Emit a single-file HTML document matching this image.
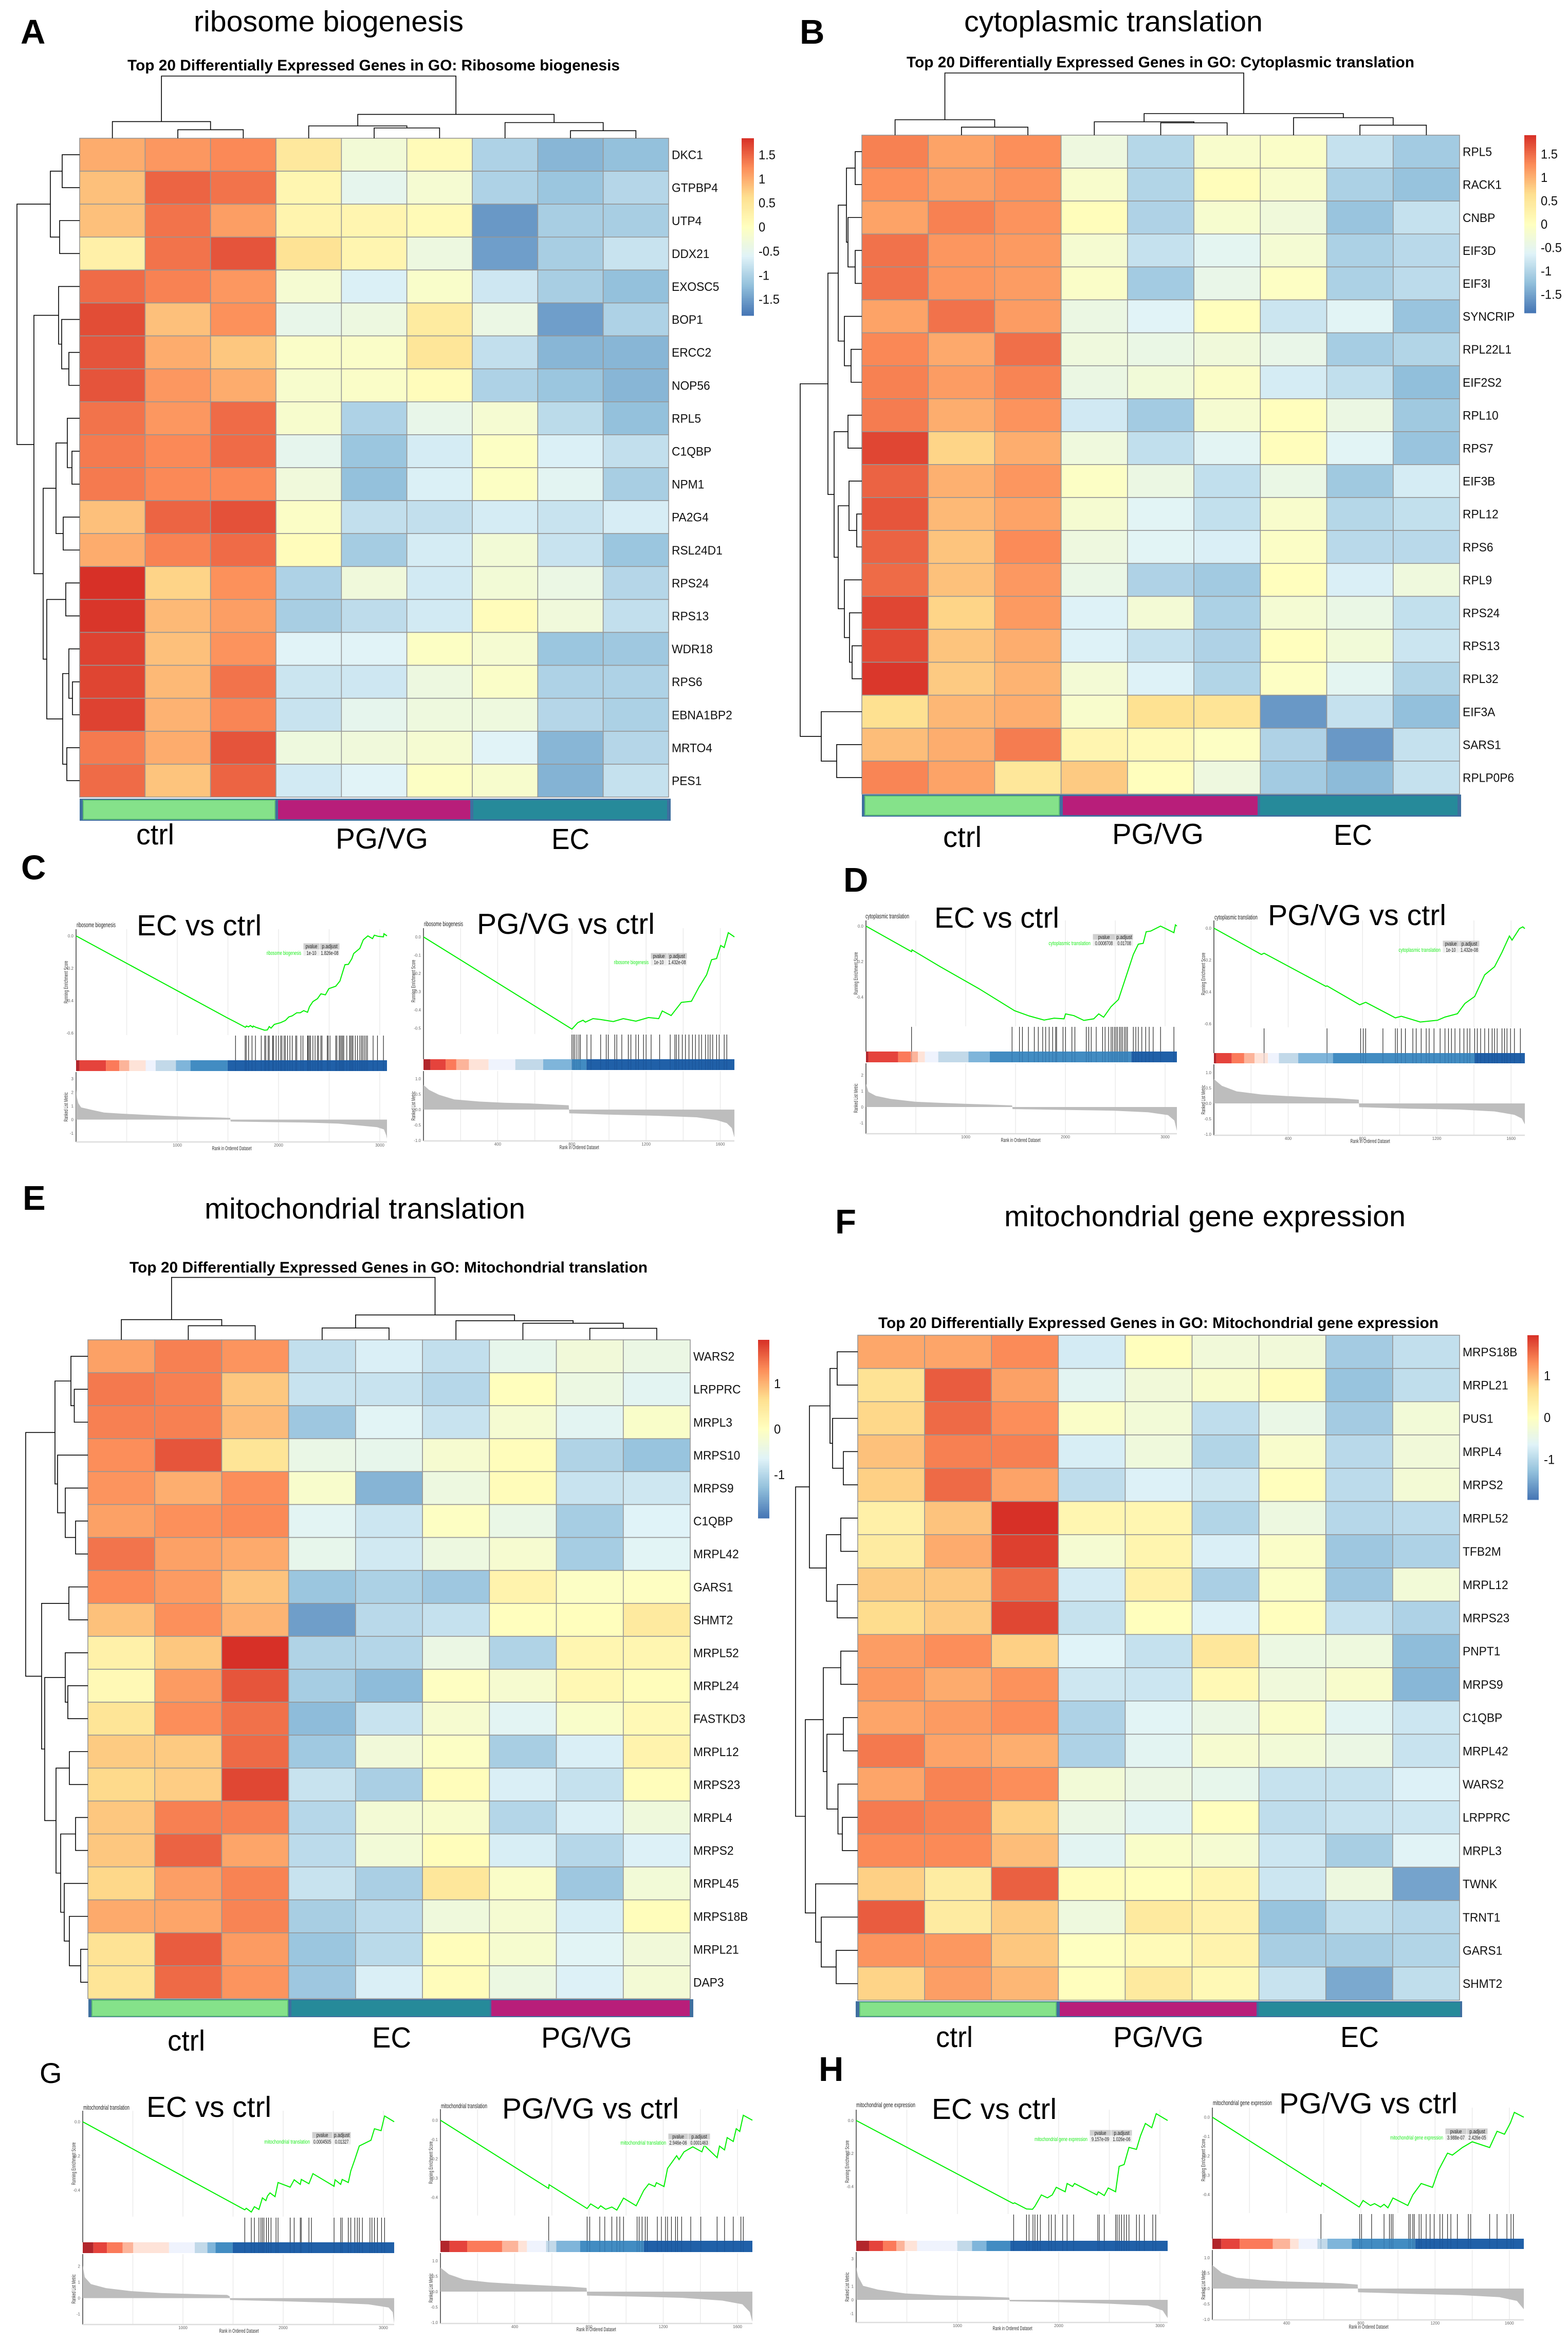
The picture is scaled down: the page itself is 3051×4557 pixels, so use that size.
<!DOCTYPE html>
<html lang="en">
<head>
<meta charset="utf-8">
<title>GO heatmaps and GSEA enrichment plots</title>
<style>
html,body{margin:0;padding:0;background:#fff}
svg{display:block;font-family:"Liberation Sans",sans-serif}
.letter{font-size:67px;font-weight:700;fill:#000}
.section{font-size:57px;fill:#000}
.hm-title{font-size:30px;font-weight:700;fill:#000}
.group{font-size:57px;fill:#000}
.gsea-title{font-size:13px;fill:#222}
.axis-title{font-size:11px;fill:#333;text-anchor:middle}
</style>
</head>
<body>
<svg id="figure" xmlns="http://www.w3.org/2000/svg" width="3051" height="4557" viewBox="0 0 3051 4557">
<rect x="0" y="0" width="3051" height="4557" fill="#fff"/>
<g id="charts"></g>

<g>
<rect x="155" y="1554" width="1150" height="43" fill="#3f6f9f"/>
<rect x="162" y="1557" width="373" height="37" fill="#85e28a" stroke="#5fbf75" stroke-width="2"/>
<rect x="541" y="1557" width="374" height="37" fill="#b81e7a"/>
<rect x="921" y="1557" width="377" height="37" fill="#268a9a"/>
</g>
<g>
<rect x="1677" y="1546" width="1166" height="43" fill="#3f6f9f"/>
<rect x="1683" y="1549" width="378" height="37" fill="#85e28a" stroke="#5fbf75" stroke-width="2"/>
<rect x="2068" y="1549" width="379" height="37" fill="#b81e7a"/>
<rect x="2452" y="1549" width="384" height="37" fill="#268a9a"/>
</g>
<g>
<rect x="172" y="3890" width="1177" height="35" fill="#3f6f9f"/>
<rect x="179" y="3892" width="381" height="31" fill="#85e28a" stroke="#5fbf75" stroke-width="2"/>
<rect x="567" y="3892" width="386" height="31" fill="#268a9a"/>
<rect x="956" y="3892" width="386" height="31" fill="#b81e7a"/>
</g>
<g>
<rect x="1665" y="3894" width="1180" height="31" fill="#3f6f9f"/>
<rect x="1673" y="3896" width="382" height="27" fill="#85e28a" stroke="#5fbf75" stroke-width="2"/>
<rect x="2062" y="3896" width="383" height="27" fill="#b81e7a"/>
<rect x="2449" y="3896" width="392" height="27" fill="#268a9a"/>
</g>

<text class="letter" x="40" y="85">A</text>
<text class="letter" x="1556" y="85">B</text>
<text class="letter" x="41" y="1711">C</text>
<text class="letter" x="1641" y="1735">D</text>
<text class="letter" x="44" y="2354">E</text>
<text class="letter" x="1625" y="2400">F</text>
<text x="77" y="4053" font-size="56">G</text>
<text class="letter" x="1593" y="4049">H</text>

<text class="section" x="377" y="61" textLength="525" lengthAdjust="spacingAndGlyphs">ribosome biogenesis</text>
<text class="section" x="1876" y="61" textLength="581" lengthAdjust="spacingAndGlyphs">cytoplasmic translation</text>
<text class="section" x="398" y="2371" textLength="624" lengthAdjust="spacingAndGlyphs">mitochondrial translation</text>
<text class="section" x="1954" y="2386" textLength="781" lengthAdjust="spacingAndGlyphs">mitochondrial gene expression</text>

<text class="hm-title" x="248" y="137" textLength="958" lengthAdjust="spacingAndGlyphs">Top 20 Differentially Expressed Genes in GO: Ribosome biogenesis</text>
<text class="hm-title" x="1764" y="131" textLength="988" lengthAdjust="spacingAndGlyphs">Top 20 Differentially Expressed Genes in GO: Cytoplasmic translation</text>
<text class="hm-title" x="252" y="2476" textLength="1008" lengthAdjust="spacingAndGlyphs">Top 20 Differentially Expressed Genes in GO: Mitochondrial translation</text>
<text class="hm-title" x="1709" y="2584" textLength="1090" lengthAdjust="spacingAndGlyphs">Top 20 Differentially Expressed Genes in GO: Mitochondrial gene expression</text>

<text class="group" x="265" y="1643" textLength="74" lengthAdjust="spacingAndGlyphs">ctrl</text>
<text class="group" x="653" y="1651" textLength="180" lengthAdjust="spacingAndGlyphs">PG/VG</text>
<text class="group" x="1073" y="1652" textLength="74" lengthAdjust="spacingAndGlyphs">EC</text>
<text class="group" x="1835" y="1648" textLength="75" lengthAdjust="spacingAndGlyphs">ctrl</text>
<text class="group" x="2164" y="1642" textLength="178" lengthAdjust="spacingAndGlyphs">PG/VG</text>
<text class="group" x="2595" y="1644" textLength="75" lengthAdjust="spacingAndGlyphs">EC</text>
<text class="group" x="326" y="3990" textLength="73" lengthAdjust="spacingAndGlyphs">ctrl</text>
<text class="group" x="724" y="3984" textLength="76" lengthAdjust="spacingAndGlyphs">EC</text>
<text class="group" x="1053" y="3984" textLength="177" lengthAdjust="spacingAndGlyphs">PG/VG</text>
<text class="group" x="1821" y="3983" textLength="72" lengthAdjust="spacingAndGlyphs">ctrl</text>
<text class="group" x="2166" y="3983" textLength="176" lengthAdjust="spacingAndGlyphs">PG/VG</text>
<text class="group" x="2608" y="3983" textLength="75" lengthAdjust="spacingAndGlyphs">EC</text>

<text class="group" x="266" y="1820" textLength="243" lengthAdjust="spacingAndGlyphs">EC vs ctrl</text>
<text class="group" x="928" y="1817" textLength="346" lengthAdjust="spacingAndGlyphs">PG/VG vs ctrl</text>
<text class="group" x="1818" y="1805" textLength="243" lengthAdjust="spacingAndGlyphs">EC vs ctrl</text>
<text class="group" x="2467" y="1800" textLength="347" lengthAdjust="spacingAndGlyphs">PG/VG vs ctrl</text>
<text class="group" x="285" y="4119" textLength="243" lengthAdjust="spacingAndGlyphs">EC vs ctrl</text>
<text class="group" x="977" y="4122" textLength="344" lengthAdjust="spacingAndGlyphs">PG/VG vs ctrl</text>
<text class="group" x="1813" y="4123" textLength="243" lengthAdjust="spacingAndGlyphs">EC vs ctrl</text>
<text class="group" x="2489" y="4112" textLength="347" lengthAdjust="spacingAndGlyphs">PG/VG vs ctrl</text>

<text class="gsea-title" x="149" y="1804" textLength="76" lengthAdjust="spacingAndGlyphs">ribosome biogenesis</text>
<text class="gsea-title" x="825" y="1802" textLength="76" lengthAdjust="spacingAndGlyphs">ribosome biogenesis</text>
<text class="gsea-title" x="1684" y="1787" textLength="85" lengthAdjust="spacingAndGlyphs">cytoplasmic translation</text>
<text class="gsea-title" x="2363" y="1789" textLength="84" lengthAdjust="spacingAndGlyphs">cytoplasmic translation</text>
<text class="gsea-title" x="162" y="4105" textLength="90" lengthAdjust="spacingAndGlyphs">mitochondrial translation</text>
<text class="gsea-title" x="858" y="4102" textLength="90" lengthAdjust="spacingAndGlyphs">mitochondrial translation</text>
<text class="gsea-title" x="1666" y="4100" textLength="115" lengthAdjust="spacingAndGlyphs">mitochondrial gene expression</text>
<text class="gsea-title" x="2360" y="4096" textLength="115" lengthAdjust="spacingAndGlyphs">mitochondrial gene expression</text>

<g>
<text class="axis-title" transform="translate(132,1911) rotate(-90)" textLength="83" lengthAdjust="spacingAndGlyphs">Running Enrichment Score</text>
<text class="axis-title" transform="translate(132,2154) rotate(-90)" textLength="57" lengthAdjust="spacingAndGlyphs">Ranked List Metric</text>
<text class="axis-title" x="451" y="2238" textLength="77" lengthAdjust="spacingAndGlyphs">Rank in Ordered Dataset</text>
<text class="axis-title" transform="translate(808,1909) rotate(-90)" textLength="83" lengthAdjust="spacingAndGlyphs">Running Enrichment Score</text>
<text class="axis-title" transform="translate(808,2152) rotate(-90)" textLength="57" lengthAdjust="spacingAndGlyphs">Ranked List Metric</text>
<text class="axis-title" x="1127" y="2236" textLength="77" lengthAdjust="spacingAndGlyphs">Rank in Ordered Dataset</text>
<text class="axis-title" transform="translate(1669,1894) rotate(-90)" textLength="83" lengthAdjust="spacingAndGlyphs">Running Enrichment Score</text>
<text class="axis-title" transform="translate(1669,2137) rotate(-90)" textLength="57" lengthAdjust="spacingAndGlyphs">Ranked List Metric</text>
<text class="axis-title" x="1986" y="2222" textLength="77" lengthAdjust="spacingAndGlyphs">Rank in Ordered Dataset</text>
<text class="axis-title" transform="translate(2345,1895) rotate(-90)" textLength="83" lengthAdjust="spacingAndGlyphs">Running Enrichment Score</text>
<text class="axis-title" transform="translate(2345,2140) rotate(-90)" textLength="57" lengthAdjust="spacingAndGlyphs">Ranked List Metric</text>
<text class="axis-title" x="2666" y="2224" textLength="77" lengthAdjust="spacingAndGlyphs">Rank in Ordered Dataset</text>
<text class="axis-title" transform="translate(147,4210) rotate(-90)" textLength="83" lengthAdjust="spacingAndGlyphs">Running Enrichment Score</text>
<text class="axis-title" transform="translate(147,4454) rotate(-90)" textLength="57" lengthAdjust="spacingAndGlyphs">Ranked List Metric</text>
<text class="axis-title" x="465" y="4539" textLength="77" lengthAdjust="spacingAndGlyphs">Rank in Ordered Dataset</text>
<text class="axis-title" transform="translate(842,4208) rotate(-90)" textLength="83" lengthAdjust="spacingAndGlyphs">Running Enrichment Score</text>
<text class="axis-title" transform="translate(842,4452) rotate(-90)" textLength="57" lengthAdjust="spacingAndGlyphs">Ranked List Metric</text>
<text class="axis-title" x="1160" y="4536" textLength="77" lengthAdjust="spacingAndGlyphs">Rank in Ordered Dataset</text>
<text class="axis-title" transform="translate(1652,4206) rotate(-90)" textLength="83" lengthAdjust="spacingAndGlyphs">Running Enrichment Score</text>
<text class="axis-title" transform="translate(1652,4450) rotate(-90)" textLength="57" lengthAdjust="spacingAndGlyphs">Ranked List Metric</text>
<text class="axis-title" x="1970" y="4534" textLength="77" lengthAdjust="spacingAndGlyphs">Rank in Ordered Dataset</text>
<text class="axis-title" transform="translate(2345,4203) rotate(-90)" textLength="83" lengthAdjust="spacingAndGlyphs">Running Enrichment Score</text>
<text class="axis-title" transform="translate(2345,4446) rotate(-90)" textLength="57" lengthAdjust="spacingAndGlyphs">Ranked List Metric</text>
<text class="axis-title" x="2663" y="4531" textLength="77" lengthAdjust="spacingAndGlyphs">Rank in Ordered Dataset</text>
</g>
</svg>

<script>
/* ---------- heatmap data ---------- */
const genesA = ['DKC1','GTPBP4','UTP4','DDX21','EXOSC5','BOP1','ERCC2','NOP56','RPL5','C1QBP','NPM1','PA2G4','RSL24D1','RPS24','RPS13','WDR18','RPS6','EBNA1BP2','MRTO4','PES1'];
const valuesA = [
[1.0,1.15,1.25,.45,-.25,.08,-1.0,-1.3,-1.2],
[.85,1.5,1.4,.18,-.5,-.2,-1.0,-1.15,-.95],
[.85,1.4,1.1,.22,.2,.1,-1.55,-1.05,-1.05],
[.3,1.4,1.6,.55,.2,-.35,-1.5,-1.05,-.8],
[1.45,1.3,1.15,-.2,-.65,-.12,-.75,-1.05,-1.2],
[1.65,.85,1.2,-.45,-.35,.4,-.4,-1.5,-1.0],
[1.6,1.0,.8,-.1,-.1,.5,-.85,-1.3,-1.3],
[1.6,1.15,1.0,-.15,-.1,.05,-1.0,-1.15,-1.3],
[1.4,1.15,1.45,-.15,-1.0,-.45,-.2,-.9,-1.2],
[1.35,1.25,1.45,-.5,-1.15,-.7,-.05,-.65,-.85],
[1.35,1.25,1.25,-.3,-1.2,-.65,-.05,-.55,-1.05],
[.85,1.5,1.62,-.08,-.85,-.85,-.7,-.8,-.68],
[1.0,1.3,1.45,.05,-1.07,-.7,-.25,-.8,-1.15],
[1.84,.7,1.2,-1.0,-.3,-.72,-.25,-.4,-.95],
[1.8,.9,1.1,-1.05,-.88,-.72,.05,-.3,-.85],
[1.72,.85,1.18,-.6,-.6,-.05,-.2,-1.15,-1.12],
[1.7,.9,1.4,-.78,-.75,-.35,-.1,-1.0,-1.0],
[1.72,.95,1.28,-.8,-.5,-.33,-.33,-.95,-1.02],
[1.35,1.0,1.6,-.33,-.3,-.2,-.6,-1.3,-.95],
[1.45,.82,1.5,-.72,-.6,-.05,-.15,-1.33,-.82]];
const colTreeA = [121,[32.4,0,[16.6,1,2]],[46.4,[24,3,[20,4,5]],[30.5,6,[14.7,7,8]]]];
const rowTreeA = [122,[57,[34,0,1],[39,2,3]],[89,[41,4,[35,5,[21,6,7]]],[71,[46,[24,8,[15,9,10]],[32,11,12]],[64,[27,13,14],[33,[21,15,[14,16,17]],[25,18,19]]]]]];
const legendTicksA = [1.5,1,0.5,0,-0.5,-1,-1.5];

const genesB = ['RPL5','RACK1','CNBP','EIF3D','EIF3I','SYNCRIP','RPL22L1','EIF2S2','RPL10','RPS7','EIF3B','RPL12','RPS6','RPL9','RPS24','RPS13','RPL32','EIF3A','SARS1','RPLP0P6'];
const valuesB = [
[1.35,1.1,1.25,-.35,-.98,-.15,-.1,-.85,-1.12],
[1.25,1.13,1.22,-.15,-1.0,.05,-.15,-1.05,-1.22],
[1.1,1.35,1.22,.05,-1.03,-.18,-.3,-1.2,-.85],
[1.45,1.2,1.17,-.2,-.85,-.55,-.22,-1.05,-.95],
[1.45,1.2,1.15,-.1,-1.12,-.45,-.05,-1.05,-.92],
[1.1,1.45,1.15,-.4,-.62,.03,-.8,-.6,-1.2],
[1.3,1.05,1.47,-.33,-.42,-.3,-.45,-1.1,-1.0],
[1.35,1.15,1.33,-.4,-.28,-.08,-.72,-.88,-1.27],
[1.38,1.02,1.22,-.75,-1.12,-.2,.03,-.4,-1.15],
[1.75,.72,1.02,-.33,-.88,-.58,.04,-.6,-1.2],
[1.55,1.0,1.2,-.07,-.4,-.88,-.42,-1.15,-.72],
[1.65,.93,1.1,-.2,-.6,-.87,-.15,-.98,-.87],
[1.55,.85,1.28,-.35,-.6,-.68,-.08,-.95,-.95],
[1.5,.87,1.18,-.43,-1.03,-1.13,.02,-.68,-.33],
[1.75,.72,1.17,-.65,-.25,-1.05,-.22,-.42,-.87],
[1.72,.85,1.02,-.65,-.85,-1.03,.02,-.28,-.8],
[1.85,.8,.98,-.25,-.65,-1.0,-.05,-.55,-1.0],
[.62,.95,1.02,-.15,.6,.55,-1.6,-.85,-1.25],
[.9,1.02,1.38,.2,.1,-.05,-1.03,-1.6,-.85],
[1.32,1.1,.5,.8,.03,-.35,-1.12,-1.3,-.85]];
const colTreeB = [121,[30,0,[15.6,1,2]],[42,[26,3,[24,4,5]],[34,6,[19.4,7,8]]]];
const rowTreeB = [120,[66,[46,[30,[13,0,1],[27,2,[13,3,4]]],[34,5,[21,6,7]]],[54,[27,8,9],[46,[25,10,[10,11,12]],[34,13,[24,14,[19,15,16]]]]]],[79,17,[49,18,19]]];
const legendTicksB = [1.5,1,0.5,0,-0.5,-1,-1.5];

const genesE = ['WARS2','LRPPRC','MRPL3','MRPS10','MRPS9','C1QBP','MRPL42','GARS1','SHMT2','MRPL52','MRPL24','FASTKD3','MRPL12','MRPS23','MRPL4','MRPS2','MRPL45','MRPS18B','MRPL21','DAP3'];
const valuesE = [
[1.15,1.4,1.25,-.9,-.7,-.9,-.5,-.3,-.42],
[1.45,1.4,.85,-.85,-.85,-1.0,.03,-.4,-.58],
[1.4,1.4,.95,-1.2,-.62,-.85,-.22,-.58,-.12],
[1.3,1.7,.55,-.45,-.5,-.2,.05,-1.05,-1.25],
[1.25,1.05,1.3,-.15,-1.4,-.38,.07,-.85,-.8],
[1.15,1.28,1.33,-.6,-.82,-.05,-.45,-1.13,-.65],
[1.48,1.15,1.08,-.5,-.78,-.38,-.2,-1.13,-.62],
[1.33,1.2,.88,-1.22,-1.08,-1.2,.25,-.07,-.03],
[.9,1.28,1.0,-1.6,-.98,-.88,.02,.03,.45],
[.3,.85,1.96,-1.05,-1.02,-.42,-1.05,.2,.2],
[.12,1.2,1.7,-1.13,-1.33,-.03,-.2,.15,.05],
[.55,1.3,1.5,-1.33,-.85,-.2,-.6,-.13,.12],
[.82,.83,1.55,-1.18,-.3,-.07,-1.12,-.7,.25],
[.7,.8,1.8,-.85,-1.1,.05,-.7,-.88,.05],
[.85,1.4,1.4,-1.0,-.25,-.15,-1.02,-.7,-.33],
[.85,1.6,1.12,-.95,-.28,.05,-.72,-1.0,-.68],
[.72,1.17,1.38,-.85,-1.1,.5,-.1,-1.2,-.28],
[1.08,1.12,1.37,-1.12,-.95,-.33,-.22,-.72,.05],
[.58,1.65,1.2,-1.22,-.97,.05,-.18,-.62,-.3],
[.55,1.55,1.25,-1.2,-.7,.06,-.4,-.68,-.25]];
const colTreeE = [121.4,[39.3,0,[27.4,1,2]],[48.4,[23.1,3,4],[37.2,5,[32.3,6,[22.4,7,8]]]]];
const rowTreeE = [121,[64,[33,0,[26.5,1,2]],[59,3,[44,4,[24,5,6]]]],[90,[37,7,8],[84,[44,9,[39,10,11]],[62,[36,12,13],[53,[24,14,15],[46,16,[36,17,[14,18,19]]]]]]]];
const legendTicksE = [1,0,-1];

const genesF = ['MRPS18B','MRPL21','PUS1','MRPL4','MRPS2','MRPL52','TFB2M','MRPL12','MRPS23','PNPT1','MRPS9','C1QBP','MRPL42','WARS2','LRPPRC','MRPL3','TWNK','TRNT1','GARS1','SHMT2'];
const valuesF = [
[1.1,1.12,1.32,-.75,.03,-.3,-.3,-1.15,-.9],
[.58,1.65,1.15,-.58,-.3,-.15,.05,-1.25,-.92],
[.72,1.55,1.3,-.1,-.28,-.93,-.45,-1.15,-.28],
[.9,1.4,1.4,-.72,-.33,-1.03,-.15,-.98,-.3],
[.78,1.55,1.13,-.93,-.68,-.8,.03,-.95,-.25],
[.32,.88,1.96,.2,.2,-1.03,-.38,-1.0,-.95],
[.42,1.07,1.85,-.22,.22,-.7,-.1,-1.2,-1.07],
[.82,.85,1.55,-.75,.3,-1.1,-.08,-1.2,-.28],
[.68,.82,1.8,-.87,.03,-.68,.02,-.88,-1.07],
[1.18,1.3,.78,-.65,-.88,.5,-.4,-.35,-1.32],
[1.22,1.07,1.27,-.8,-.82,.12,-.32,-.15,-1.38],
[1.12,1.2,1.3,-1.07,-.62,-.42,-.1,-.58,-.82],
[1.45,1.13,1.05,-1.07,-.58,-.2,-.28,-.42,-.85],
[1.12,1.38,1.3,-.27,-.42,-.5,-.87,-.87,-.68],
[1.43,1.38,.78,-.42,-.58,.02,-.93,-.85,-.82],
[1.33,1.33,.93,-.58,-.12,-.22,-.82,-1.12,-.63],
[.78,.4,1.62,.05,.03,.2,-.82,-.37,-1.55],
[1.65,.42,.82,-.35,.45,.27,-1.25,-.92,-1.0],
[1.25,1.22,.85,-.02,.1,.25,-1.12,-1.12,-1.03],
[.75,1.17,.98,.02,.45,.12,-.85,-1.5,-.92]];
const rowTreeF = [121,[94,[54,[40,0,1],[49,2,[28,3,4]]],[61,[33,5,6],[40,7,8]]],[102,[67,[33,9,10],[60,[28,11,12],[38.5,13,[30,14,15]]]],[82,16,[71,17,[42,18,19]]]]];
const legendTicksF = [1,0,-1];

const paletteStops = ['#4575B4','#91BFDB','#E0F3F8','#FFFFBF','#FEE090','#FC8D59','#D73027'];

/* ---------- GSEA data: [rank, value] ---------- */
const segColors = ['#b2262c','#e5433c','#fb7a5a','#fcb49a','#fee3d8','#eff3fd','#c2d9e9','#7fb5da','#428cc2','#2060a8'];
const rankTicksLong = [1000,2000,3000];
const rankTicksShort = [400,800,1200,1600];

const c1Running = [[0,0],[1496,-.507],[1568,-.53],[1673,-.565],[1682,-.557],[1704,-.562],[1722,-.554],[1745,-.564],[1750,-.557],[1777,-.565],[1863,-.583],[1890,-.581],[1908,-.56],[1926,-.57],[1958,-.547],[2021,-.536],[2067,-.523],[2101,-.501],[2135,-.494],[2180,-.475],[2214,-.475],[2248,-.462],[2286,-.472],[2305,-.438],[2339,-.406],[2384,-.388],[2418,-.358],[2463,-.364],[2497,-.326],[2565,-.311],[2606,-.279],[2622,-.247],[2656,-.178],[2690,-.176],[2724,-.141],[2742,-.109],[2803,-.077],[2837,-.024],[2882,0],[2928,-.017],[2946,.004],[2984,-.003],[3036,-.006],[3041,.013],[3071,0]];
const c1Hits = [1575,1670,1681,1704,1738,1772,1829,1863,1874,1897,1908,1942,1949,1976,1999,2021,2033,2055,2067,2089,2112,2135,2169,2180,2221,2241,2286,2293,2305,2316,2339,2361,2384,2395,2418,2429,2481,2490,2508,2565,2576,2599,2610,2622,2633,2644,2674,2701,2712,2724,2735,2758,2780,2803,2819,2832,2848,2864,2878,2934,2977,3036];
const c1Breaks = [34,295,427,525,688,786,986,1130,1496,3071];
const c1Metric = [[0,2.2],[9,1.6],[23,1.2],[50,.9],[163,.7],[276,.52],[435,.44],[662,.36],[888,.28],[1115,.21],[1341,.17],[1523,.13],[1527,-.14],[1795,-.17],[2248,-.21],[2588,-.29],[2814,-.44],[2973,-.56],[3041,-.72],[3064,-1.16],[3071,-1.4]];
const c1ScoreTicks = [0,-.2,-.4,-.6];
const c1MetricTicks = [3,2,1,0,-1];
const c1Table = ['ribosome biogenesis','1e-10','1.826e-08'];

const c2Running = [[0,0],[800,-.505],[832,-.47],[860,-.457],[873,-.467],[914,-.448],[955,-.453],[1023,-.464],[1077,-.448],[1145,-.462],[1213,-.442],[1268,-.448],[1287,-.406],[1335,-.431],[1390,-.359],[1444,-.353],[1485,-.275],[1526,-.208],[1553,-.125],[1580,-.119],[1602,-.047],[1621,-.058],[1643,.023],[1676,0]];
const c2Hits = [800,808,816,827,838,846,881,903,955,985,996,1031,1042,1069,1104,1118,1145,1159,1186,1200,1227,1273,1330,1355,1363,1376,1395,1412,1431,1450,1466,1485,1499,1520,1534,1545,1559,1580,1594,1621,1635];
const c2Breaks = [38,120,177,245,351,495,645,800,879,1676];
const c2Metric = [[0,.8],[30,.64],[84,.48],[166,.33],[302,.26],[438,.22],[574,.2],[710,.16],[783,.14],[786,-.12],[982,-.16],[1254,-.2],[1472,-.25],[1580,-.34],[1635,-.44],[1662,-.6],[1676,-.9]];
const c2ScoreTicks = [0,-.1,-.2,-.3,-.4,-.5];
const c2MetricTicks = [1,.5,0,-.5,-1];
const c2Table = ['ribosome biogenesis','1e-10','1.432e-08'];

const d1Running = [[0,0],[457,-.144],[462,-.134],[745,-.229],[1142,-.356],[1490,-.477],[1638,-.507],[1787,-.53],[1887,-.519],[1986,-.523],[2001,-.495],[2085,-.505],[2185,-.532],[2284,-.523],[2334,-.495],[2383,-.514],[2458,-.454],[2532,-.414],[2607,-.287],[2681,-.16],[2731,-.102],[2780,-.097],[2810,-.032],[2855,-.028],[2954,0],[3088,-.037],[3103,.007],[3118,0]];
const d1Hits = [457,1465,1539,1569,1629,1688,1728,1772,1802,1837,1872,1902,1912,1976,2001,2065,2095,2209,2234,2259,2309,2373,2398,2433,2458,2473,2492,2507,2522,2542,2557,2572,2592,2607,2622,2681,2706,2731,2766,2805,2840,2880,2954,3088];
const d1Breaks = [25,323,452,521,591,725,1028,1241,2661,3118];
const d1Metric = [[0,1.46],[25,.95],[99,.7],[248,.51],[497,.33],[745,.26],[993,.2],[1241,.15],[1465,.1],[1470,-.13],[1986,-.18],[2483,-.23],[2830,-.33],[3029,-.51],[3093,-.85],[3118,-1.49]];
const d1ScoreTicks = [0,-.2,-.4];
const d1MetricTicks = [2,1,0,-1];
const d1Table = ['cytoplasmic translation','0.0008708','0.01708'];

const d2Running = [[0,0],[256,-.165],[270,-.157],[603,-.365],[609,-.362],[785,-.481],[817,-.465],[977,-.563],[1009,-.553],[1111,-.589],[1204,-.578],[1244,-.558],[1311,-.537],[1351,-.473],[1404,-.429],[1458,-.293],[1511,-.242],[1551,-.152],[1591,-.049],[1605,-.075],[1645,-.003],[1663,.008],[1674,-.003]];
const d2Hits = [270,609,790,804,817,910,977,988,1009,1031,1071,1089,1116,1143,1159,1185,1218,1244,1263,1279,1298,1324,1346,1364,1378,1404,1418,1436,1458,1479,1498,1511,1525,1551,1565,1578,1597,1618,1650];
const d2Breaks = [13,96,163,219,291,350,454,641,1404,1674];
const d2Metric = [[0,.79],[43,.57],[123,.39],[256,.29],[390,.24],[523,.2],[657,.17],[780,.12],[782,-.12],[1057,-.17],[1324,-.2],[1511,-.26],[1618,-.37],[1658,-.49],[1674,-.68]];
const d2ScoreTicks = [0,-.2,-.4,-.6];
const d2MetricTicks = [1,.5,0,-.5,-1];
const d2Table = ['cytoplasmic translation','1e-10','1.432e-08'];

const g1Running = [[0,0],[1617,-.516],[1632,-.507],[1682,-.529],[1713,-.498],[1758,-.514],[1793,-.446],[1828,-.462],[1844,-.435],[1869,-.417],[1919,-.439],[1949,-.356],[2070,-.383],[2110,-.34],[2171,-.367],[2181,-.338],[2257,-.363],[2297,-.304],[2508,-.378],[2518,-.34],[2574,-.367],[2589,-.338],[2650,-.356],[2675,-.288],[2715,-.221],[2760,-.142],[2876,-.108],[2911,-.041],[2977,-.052],[3012,.034],[3108,0]];
const g1Hits = [1617,1682,1713,1758,1778,1793,1808,1833,1854,1879,1929,1949,2070,2110,2171,2181,2257,2282,2508,2574,2589,2650,2675,2715,2740,2760,2791,2866,2886,2911,2941,2982,3012];
const g1Breaks = [106,242,398,504,861,1118,1244,1325,1496,3108];
const g1Metric = [[0,2.05],[20,1.32],[81,.88],[232,.63],[484,.44],[786,.32],[1189,.24],[1440,.2],[1466,.12],[1471,-.12],[1995,-.2],[2498,-.29],[2851,-.39],[3052,-.59],[3093,-.88],[3108,-1.6]];
const g1ScoreTicks = [0,-.2,-.4];
const g1MetricTicks = [2,1,0,-1];
const g1Table = ['mitochondrial translation','0.0004505','0.01327'];

const g2Running = [[0,0],[583,-.354],[585,-.334],[790,-.458],[809,-.434],[850,-.458],[863,-.444],[890,-.462],[923,-.45],[950,-.466],[986,-.404],[1054,-.444],[1095,-.364],[1122,-.33],[1155,-.344],[1163,-.324],[1204,-.344],[1223,-.25],[1272,-.184],[1285,-.204],[1312,-.164],[1348,-.144],[1359,-.138],[1408,-.164],[1421,-.13],[1490,-.194],[1503,-.134],[1530,-.154],[1544,-.09],[1577,-.11],[1593,-.044],[1612,-.058],[1631,.026],[1680,0]];
const g2Hits = [583,790,804,858,885,923,950,966,986,1059,1070,1086,1103,1114,1168,1190,1212,1223,1244,1266,1277,1299,1348,1402,1490,1530,1577,1618,1631];
const g2Breaks = [49,144,332,419,466,569,624,752,1095,1680];
const g2Metric = [[0,.78],[46,.56],[128,.39],[264,.3],[400,.25],[564,.2],[700,.16],[787,.12],[790,-.13],[1054,-.16],[1299,-.2],[1517,-.29],[1626,-.41],[1666,-.66],[1680,-.98]];
const g2ScoreTicks = [0,-.1,-.2,-.3,-.4];
const g2MetricTicks = [1,.5,0,-.5,-1];
const g2Table = ['mitochondrial translation','2.946e-06','0.0001463'];

const h1Running = [[0,0],[1550,-.503],[1565,-.499],[1682,-.536],[1741,-.538],[1765,-.52],[1829,-.451],[1888,-.469],[1936,-.451],[1976,-.405],[2064,-.432],[2083,-.382],[2137,-.4],[2157,-.382],[2377,-.451],[2391,-.432],[2450,-.455],[2489,-.409],[2562,-.432],[2597,-.278],[2646,-.267],[2694,-.163],[2768,-.175],[2807,-.094],[2856,-.018],[2919,-.044],[2963,.041],[3076,0]];
const h1Hits = [1555,1682,1707,1746,1765,1790,1819,1902,1927,1966,2039,2083,2147,2386,2401,2450,2562,2577,2597,2621,2646,2670,2694,2768,2797,2846,2929,2958];
const h1Breaks = [127,264,396,479,601,998,1144,1286,1521,3076];
const h1Metric = [[0,2.4],[20,1.7],[68,1.03],[215,.75],[484,.47],[826,.33],[1218,.25],[1511,.17],[1516,-.11],[2000,-.17],[2489,-.28],[2880,-.42],[3027,-.78],[3076,-1.33]];
const h1ScoreTicks = [0,-.2,-.4];
const h1MetricTicks = [3,1,0,-1];
const h1Table = ['mitochondrial gene expression','9.157e-09','1.026e-06'];

const h2Running = [[0,0],[585,-.357],[590,-.341],[791,-.465],[812,-.431],[852,-.457],[874,-.447],[906,-.465],[925,-.451],[946,-.469],[973,-.418],[1053,-.457],[1080,-.402],[1125,-.343],[1186,-.363],[1218,-.275],[1267,-.186],[1293,-.196],[1347,-.157],[1400,-.127],[1494,-.157],[1534,-.073],[1574,-.088],[1606,-.029],[1627,.025],[1678,0]];
const h2Hits = [585,794,804,858,925,954,964,973,1058,1066,1080,1088,1114,1125,1152,1173,1195,1226,1240,1267,1285,1320,1379,1392,1494,1534,1587,1609,1622];
const h2Breaks = [48,147,326,419,465,566,620,751,1093,1678];
const h2Metric = [[0,.76],[51,.51],[131,.35],[265,.27],[398,.23],[558,.2],[692,.17],[783,.13],[785,-.12],[1066,-.17],[1333,-.21],[1547,-.28],[1641,-.4],[1678,-.67]];
const h2ScoreTicks = [0,-.1,-.2,-.3,-.4];
const h2MetricTicks = [1,.5,0,-.5,-1];
const h2Table = ['mitochondrial gene expression','3.988e-07','2.426e-05'];

/* ---------- drawing ---------- */
const NS = 'http://www.w3.org/2000/svg';
const root = document.getElementById('charts');
function mk(tag, attrs, parent){
  const e = document.createElementNS(NS, tag);
  for (const k in attrs) e.setAttribute(k, attrs[k]);
  parent.appendChild(e);
  return e;
}
function hexRgb(h){return [1,3,5].map(i=>parseInt(h.substr(i,2),16));}
function heatColor(v, range){
  const t = Math.max(0,Math.min(1,(v+range)/(2*range)))*(paletteStops.length-1);
  const i = Math.min(paletteStops.length-2,Math.floor(t)), f = t-i;
  const a = hexRgb(paletteStops[i]), b = hexRgb(paletteStops[i+1]);
  return 'rgb('+a.map((c,k)=>Math.round(c+(b[k]-c)*f)).join(',')+')';
}
function drawHeatmap(c){
  const g = mk('g',{},root);
  
  
  const nR = c.values.length, nC = c.values[0].length;
  const cw = (c.x1-c.x0)/nC, rh = (c.y1-c.y0)/nR;
  const colX = i => c.x0+cw*(i+.5);
  const rowY = i => c.y0+rh*(i+.5);
  c.values.forEach((row,r)=>row.forEach((v,k)=>{
    const cell = mk('rect',{x:c.x0+cw*k,y:c.y0+rh*r,width:cw,height:rh,fill:heatColor(v,c.range),stroke:'#969696','stroke-width':1.6},g);
    
    
  }));
  c.genes.forEach((name,r)=>{
    const t = mk('text',{transform:'translate('+(c.x1+6)+','+(rowY(r)+8.5)+') scale(.95,1)','font-size':24,fill:'#111'},g);
    t.textContent = name;
    
    
  });
  function walk(n, pos, emit){
    if (typeof n === 'number') return {c:pos(n), d:0};
    const a = walk(n[1],pos,emit), b = walk(n[2],pos,emit);
    emit(a,b,n[0]);
    return {c:(a.c+b.c)/2, d:n[0]};
  }
  let dCol = '';
  if (c.colTree) walk(c.colTree,colX,(a,b,h)=>{
    const up = d=>c.y0-d*c.treeScale;
    dCol += 'M'+a.c+' '+up(a.d)+'V'+up(h)+'H'+b.c+'V'+up(b.d);
  });
  if (dCol){
    const p = mk('path',{d:dCol,fill:'none',stroke:'#000','stroke-width':1.6},g);
    
    
  }
  let dRow = '';
  walk(c.rowTree,rowY,(a,b,h)=>{
    const left = d=>c.x0-d*c.treeScale;
    dRow += 'M'+left(a.d)+' '+a.c+'H'+left(h)+'V'+b.c+'H'+left(b.d);
  });
  const rp = mk('path',{d:dRow,fill:'none',stroke:'#000','stroke-width':1.6},g);
  
  
  const n = 100, h = (c.cbY1-c.cbY0)/n;
  const cbY = v => c.cbY0+(c.range-v)/(2*c.range)*(c.cbY1-c.cbY0);
  for (let i=0;i<n;i++){
    const s = mk('rect',{x:c.cbX0,y:c.cbY0+h*i,width:c.cbX1-c.cbX0,height:h+.5,fill:heatColor(c.range-(i+.5)/n*2*c.range,c.range)},g);
    
    
  }
  c.ticks.forEach(v=>{
    const t = mk('text',{transform:'translate('+c.cbLabelX+','+(cbY(v)+9)+') scale(.95,1)','font-size':25,fill:'#111'},g);
    t.textContent = String(v);
    
    
  });
}
function drawGsea(p){
  const g = mk('g',{},root);
  
  
  const X = r => p.x0+r*(p.x1-p.x0)/p.rankMax;
  const ES = v => p.esZero-v*p.esUnit;
  const M = v => p.mZero-v*p.mUnit;
  const step = (p.rankTicks[1]-p.rankTicks[0])/2;
  for (let r=step;r<p.rankMax;r+=step){
    [[p.topY0,p.topY1],[p.botY0,p.botY1]].forEach(sp=>{
      const gl = mk('line',{x1:X(r),x2:X(r),y1:sp[0],y2:sp[1],stroke:'#ececec','stroke-width':1.6},g);
      
      
    });
  }
  const axisTop = mk('line',{x1:p.x0,x2:p.x0,y1:p.topY0,y2:p.rugY1,stroke:'#444','stroke-width':1.6},g);
  
  
  const axisBot = mk('line',{x1:p.x0,x2:p.x0,y1:p.botY0,y2:p.botY1,stroke:'#444','stroke-width':1.6},g);
  
  
  const base = mk('line',{x1:p.x0,x2:p.x1,y1:p.botY1,y2:p.botY1,stroke:'#ddd','stroke-width':2.5},g);
  
  
  let prev = 0;
  p.breaks.forEach((b,i)=>{
    const s = mk('rect',{x:X(prev),y:p.rugY1,width:X(b)-X(prev),height:p.barY1-p.rugY1,fill:segColors[i]},g);
    
    
    prev = b;
  });
  p.hits.forEach(r=>{
    const h = mk('line',{x1:X(r),x2:X(r),y1:p.rugY0,y2:p.rugY1,stroke:'#000','stroke-width':1.2,'stroke-opacity':.85},g);
    
    
    const o = mk('line',{x1:X(r),x2:X(r),y1:p.rugY1,y2:p.barY1,stroke:'#08306b','stroke-width':1.2,'stroke-opacity':.25},g);
    
    
  });
  const mPts = p.metric.map(q=>X(q[0]).toFixed(1)+','+M(q[1]).toFixed(1));
  const area = mk('polygon',{points:X(0)+','+M(0)+' '+mPts.join(' ')+' '+X(p.rankMax)+','+M(0),fill:'#bdbdbd'},g);
  
  
  const line = mk('polyline',{points:p.running.map(q=>X(q[0]).toFixed(1)+','+ES(q[1]).toFixed(1)).join(' '),fill:'none',stroke:'#00f000','stroke-width':2},g);
  
  
  p.scoreTicks.forEach(v=>{
    const t = mk('text',{x:p.x0-5,y:ES(v)+3,'font-size':8,fill:'#666','text-anchor':'end'},g);
    t.textContent = v.toFixed(1);
    
    
  });
  p.metricTicks.forEach(v=>{
    const t = mk('text',{x:p.x0-5,y:M(v)+3,'font-size':8,fill:'#666','text-anchor':'end'},g);
    t.textContent = p.metricDecimals ? v.toFixed(1) : String(v);
    
    
  });
  p.rankTicks.forEach(r=>{
    const t = mk('text',{x:X(r),y:p.botY1+9,'font-size':8,fill:'#666','text-anchor':'middle'},g);
    t.textContent = String(r);
    
    
  });
  const tb = p.tbl;
  [[tb[0],tb[1],tb[3],tb[4],'#cfcfcf'],[tb[1],tb[2],tb[3],tb[4],'#cfcfcf'],[tb[0],tb[1],tb[4],tb[5],'#eeeeee'],[tb[1],tb[2],tb[4],tb[5],'#eeeeee']].forEach(q=>{
    const r = mk('rect',{x:q[0]+.5,y:q[2]+.5,width:q[1]-q[0]-1,height:q[3]-q[2]-1,fill:q[4]},g);
    
    
  });
  const cells = [['pvalue',(tb[0]+tb[1])/2,tb[3],'#222'],['p.adjust',(tb[1]+tb[2])/2,tb[3],'#222'],[p.table[1],(tb[0]+tb[1])/2,tb[4],'#222'],[p.table[2],(tb[1]+tb[2])/2,tb[4],'#222']];
  cells.forEach(q=>{
    const t = mk('text',{x:q[1],y:q[2]+10,'font-size':11,fill:q[3],'text-anchor':'middle',textLength:q[0].length*3.8,lengthAdjust:'spacingAndGlyphs'},g);
    t.textContent = q[0];
    
    
  });
  const term = mk('text',{x:tb[0]-4,y:tb[4]+10,'font-size':11,fill:'#22ee22','text-anchor':'end',textLength:p.table[0].length*3.55,lengthAdjust:'spacingAndGlyphs'},g);
  term.textContent = p.table[0];
  
  
}

drawHeatmap({genes:genesA,values:valuesA,colTree:colTreeA,rowTree:rowTreeA,ticks:legendTicksA,range:1.84,treeScale:1,x0:155,x1:1301,y0:269,y1:1551,cbX0:1443,cbX1:1467,cbY0:269,cbY1:614,cbLabelX:1476});
drawHeatmap({genes:genesB,values:valuesB,colTree:colTreeB,rowTree:rowTreeB,ticks:legendTicksB,range:1.9,treeScale:1,x0:1677,x1:2840,y0:263,y1:1545,cbX0:2966,cbX1:2989,cbY0:263,cbY1:609,cbLabelX:2998});
drawHeatmap({genes:genesE,values:valuesE,colTree:colTreeE,rowTree:rowTreeE,ticks:legendTicksE,range:1.96,treeScale:1,x0:171,x1:1343,y0:2607,y1:3889,cbX0:1475,cbX1:1497,cbY0:2607,cbY1:2954,cbLabelX:1506});
drawHeatmap({genes:genesF,values:valuesF,colTree:null,rowTree:rowTreeF,ticks:legendTicksF,range:1.96,treeScale:1,x0:1669,x1:2840,y0:2598,y1:3892,cbX0:2972,cbX1:2994,cbY0:2598,cbY1:2918,cbLabelX:3004});

drawGsea({running:c1Running,hits:c1Hits,breaks:c1Breaks,metric:c1Metric,scoreTicks:c1ScoreTicks,metricTicks:c1MetricTicks,table:c1Table,rankTicks:rankTicksLong,rankMax:3071,x0:148,x1:753,topY0:1808,topY1:2014,rugY0:2015,rugY1:2063,barY1:2084,botY0:2086,botY1:2222,esZero:1821,esUnit:315,mZero:2178.5,mUnit:26.5,tbl:[590,622,661,1835,1848,1860]});
drawGsea({running:c2Running,hits:c2Hits,breaks:c2Breaks,metric:c2Metric,scoreTicks:c2ScoreTicks,metricTicks:c2MetricTicks,metricDecimals:true,table:c2Table,rankTicks:rankTicksShort,rankMax:1676,x0:824,x1:1429,topY0:1806,topY1:2012,rugY0:2013,rugY1:2061,barY1:2082,botY0:2084,botY1:2220,esZero:1823,esUnit:355,mZero:2159,mUnit:60,tbl:[1266,1298,1337,1854,1866,1879]});
drawGsea({running:d1Running,hits:d1Hits,breaks:d1Breaks,metric:d1Metric,scoreTicks:d1ScoreTicks,metricTicks:d1MetricTicks,table:d1Table,rankTicks:rankTicksLong,rankMax:3118,x0:1685,x1:2290,topY0:1791,topY1:1997,rugY0:1998,rugY1:2046,barY1:2067,botY0:2069,botY1:2206,esZero:1802,esUnit:345,mZero:2154,mUnit:31,tbl:[2126,2170,2205,1817,1829,1841]});
drawGsea({running:d2Running,hits:d2Hits,breaks:d2Breaks,metric:d2Metric,scoreTicks:d2ScoreTicks,metricTicks:d2MetricTicks,metricDecimals:true,table:d2Table,rankTicks:rankTicksShort,rankMax:1674,x0:2362,x1:2967,topY0:1791,topY1:1999,rugY0:2001,rugY1:2049,barY1:2069,botY0:2071,botY1:2209,esZero:1806,esUnit:310,mZero:2147,mUnit:60,tbl:[2807,2839,2879,1830,1842,1854]});
drawGsea({running:g1Running,hits:g1Hits,breaks:g1Breaks,metric:g1Metric,scoreTicks:g1ScoreTicks,metricTicks:g1MetricTicks,table:g1Table,rankTicks:rankTicksLong,rankMax:3108,x0:161,x1:767,topY0:4107,topY1:4313,rugY0:4315,rugY1:4363,barY1:4384,botY0:4386,botY1:4523,esZero:4128.5,esUnit:332,mZero:4471.6,mUnit:31,tbl:[607,647,683,4148,4161,4173]});
drawGsea({running:g2Running,hits:g2Hits,breaks:g2Breaks,metric:g2Metric,scoreTicks:g2ScoreTicks,metricTicks:g2MetricTicks,metricDecimals:true,table:g2Table,rankTicks:rankTicksShort,rankMax:1680,x0:857,x1:1464,topY0:4104,topY1:4311,rugY0:4313,rugY1:4360,barY1:4382,botY0:4384,botY1:4521,esZero:4125.5,esUnit:375,mZero:4459,mUnit:60,tbl:[1300,1339,1382,4151,4163,4176]});
drawGsea({running:h1Running,hits:h1Hits,breaks:h1Breaks,metric:h1Metric,scoreTicks:h1ScoreTicks,metricTicks:h1MetricTicks,table:h1Table,rankTicks:rankTicksLong,rankMax:3076,x0:1666,x1:2272,topY0:4105,topY1:4308,rugY0:4309,rugY1:4360,barY1:4380,botY0:4382,botY1:4519,esZero:4126,esUnit:321,mZero:4475,mUnit:26.6,tbl:[2120,2162,2203,4144,4156,4169]});
drawGsea({running:h2Running,hits:h2Hits,breaks:h2Breaks,metric:h2Metric,scoreTicks:h2ScoreTicks,metricTicks:h2MetricTicks,metricDecimals:true,table:h2Table,rankTicks:rankTicksShort,rankMax:1678,x0:2359,x1:2965,topY0:4101,topY1:4306,rugY0:4308,rugY1:4356,barY1:4376,botY0:4378,botY1:4514,esZero:4119.6,esUnit:376,mZero:4453,mUnit:60,tbl:[2812,2854,2895,4141,4153,4165]});
</script>
</body>
</html>
